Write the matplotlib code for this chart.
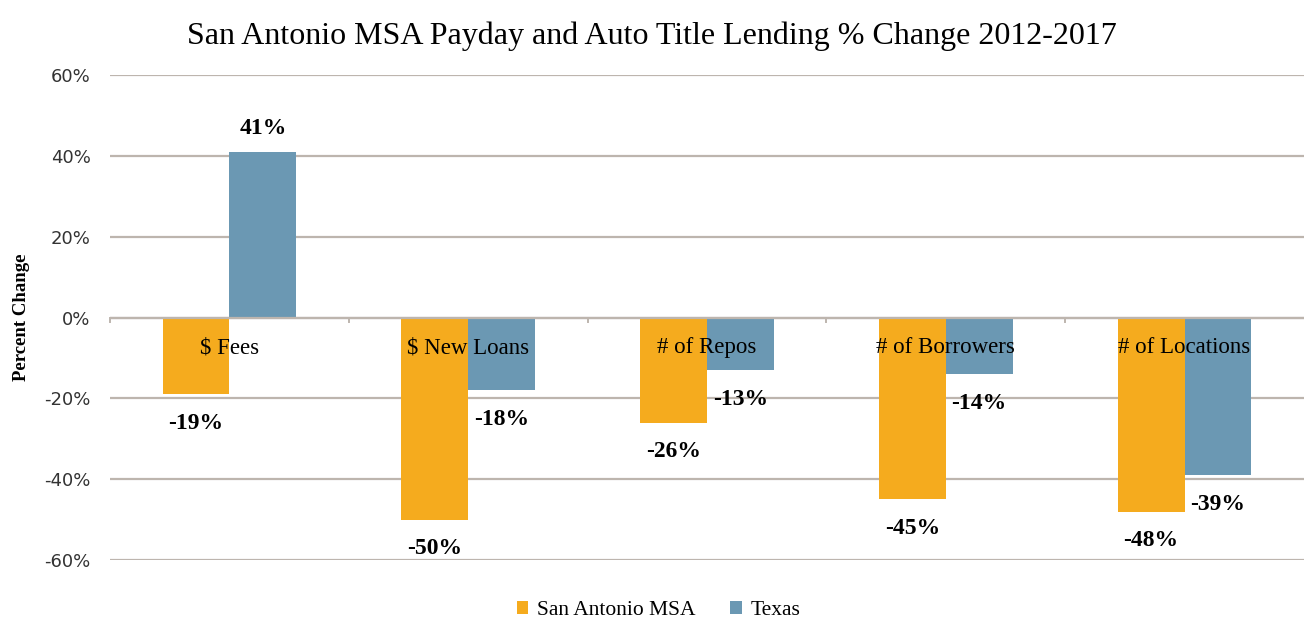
import matplotlib.pyplot as plt
import numpy as np
from matplotlib.ticker import FuncFormatter, FixedLocator

categories = ["$ Fees", "$ New Loans", "# of Repos", "# of Borrowers", "# of Locations"]
san_antonio = [-19, -50, -26, -45, -48]
texas = [41, -18, -13, -14, -39]
series_names = ["San Antonio MSA", "Texas"]
yticks = [-60, -40, -20, 0, 20, 40, 60]

orange = "#F5AB1E"
blue = "#6B98B3"
grid_c = "#BDB5AE"

plt.rcParams['font.family'] = ['Liberation Serif', 'DejaVu Serif']

fig = plt.figure(figsize=(13.04, 6.26), dpi=100)
ax = fig.add_axes([0.0844, 0.1054, 0.9156, 0.7746])

x = np.arange(len(categories))
w = 0.28
b1 = ax.bar(x - w/2, san_antonio, w, color=orange, label=series_names[0], zorder=3)
b2 = ax.bar(x + w/2, texas, w, color=blue, label=series_names[1], zorder=3)

ax.set_xlim(-0.5, len(categories) - 0.5)
ax.set_ylim(-60, 60)
ax.yaxis.set_major_locator(FixedLocator(yticks))
ax.yaxis.set_major_formatter(FuncFormatter(lambda v, p: f"{int(v)}%"))
ax.grid(axis='y', color=grid_c, linewidth=1.6, zorder=0)
ax.axhline(0, color=grid_c, linewidth=1.6, zorder=4)
for s in ax.spines.values():
    s.set_visible(False)
ax.tick_params(axis='y', length=0, labelsize=13, pad=14)
for lbl in ax.get_yticklabels():
    lbl.set_family(['DejaVu Sans'])
    lbl.set_color('#333333')
ax.set_xticks([])

# boundary ticks on zero line
for bx in np.arange(-0.5, len(categories) - 0.5, 1.0):
    ax.plot([bx, bx], [0, -1.2], color=grid_c, linewidth=1.4, zorder=4, clip_on=False)

# category labels inside the plot
for i, c in enumerate(categories):
    ax.text(i, -7.5, c, ha='center', va='center', fontsize=16.5, zorder=5)

# value labels
for bars, vals in ((b1, san_antonio), (b2, texas)):
    for rect, v in zip(bars, vals):
        cx = rect.get_x() + rect.get_width() / 2
        off = 17 if v > 0 else -21
        ax.annotate(f"{v}%", (cx, v), xytext=(0, off), textcoords='offset points',
                    ha='center', va='center', fontsize=17, fontweight='bold', zorder=5)

ax.set_ylabel("Percent Change", fontsize=13.5, fontweight='bold', labelpad=10)

fig.suptitle("San Antonio MSA Payday and Auto Title Lending % Change 2012-2017",
             fontsize=23, y=0.965)

leg = fig.legend(handles=[b1, b2], labels=series_names, loc='center', bbox_to_anchor=(0.505, 0.025),
                 ncol=2, frameon=False, fontsize=15.5, handlelength=0.55, handleheight=0.55,
                 columnspacing=1.6, handletextpad=0.4)

fig.savefig("out.png", dpi=100)
